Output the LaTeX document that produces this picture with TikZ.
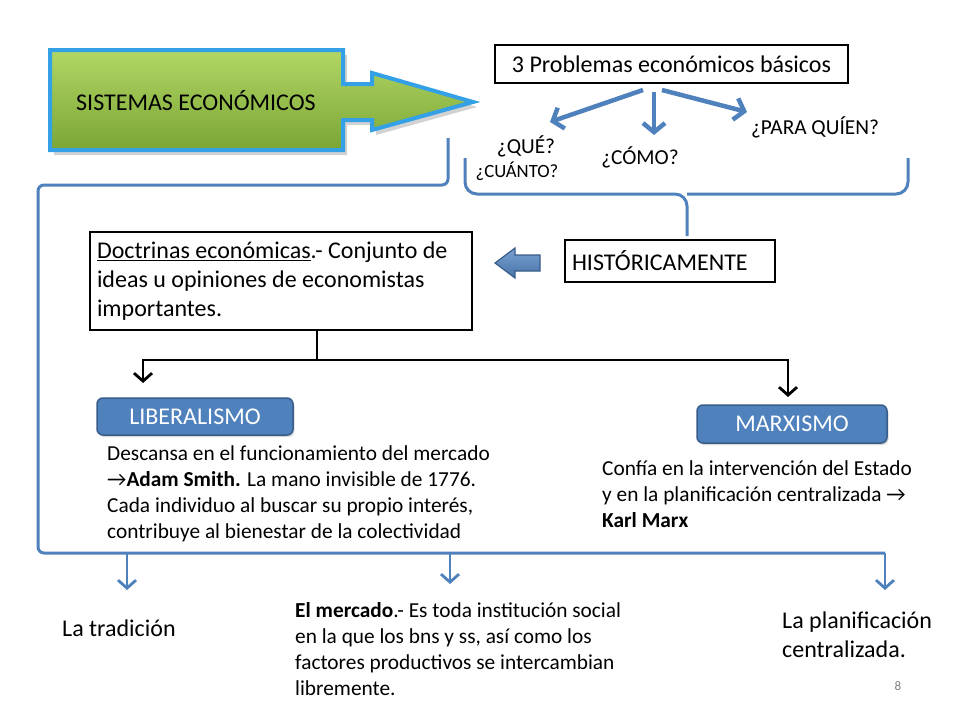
\documentclass[tikz,border=0pt]{standalone}
\usepackage{fontspec}
\setmainfont{Carlito}
\usetikzlibrary{arrows.meta,shadows,calc}
\definecolor{blu}{RGB}{79,129,189}
\definecolor{bludark}{RGB}{56,93,138}
\definecolor{skyb}{RGB}{52,160,230}
\definecolor{grtop}{RGB}{178,214,100}
\definecolor{grbot}{RGB}{122,166,54}
\tikzset{
  fA/.style={font=\fontsize{24}{28.8}\selectfont},
  fB/.style={font=\fontsize{21.33}{26.2}\selectfont},
  fC/.style={font=\fontsize{18.7}{22}\selectfont},
  blackbox/.style={draw=black, line width=2pt, fA, inner sep=7pt},
  bluebtn/.style={draw=bludark, fill=blu, line width=1.5pt, rounded corners=6pt, text=white, fA, drop shadow={shadow xshift=1.5pt, shadow yshift=-2pt, opacity=0.3}},
  txt/.style={inner sep=0pt, align=left},
  bigarrow/.style={draw=blu, line width=4.5pt, -{Straight Barb[length=9pt,width=22pt]}},
  blkarrow/.style={draw=black, line width=2.8pt, -{Straight Barb[length=8pt,width=18pt]}},
  blkline/.style={draw=black, line width=2.8pt},
  bluline/.style={draw=blu, line width=3pt},
  smallarrow/.style={draw=blu, line width=2.8pt, -{Straight Barb[length=8pt,width=18pt]}},
}
\begin{document}
\begin{tikzpicture}[x=1pt,y=-1pt]
\useasboundingbox (0,0) rectangle (960,720);
\fill[white] (0,0) rectangle (960,720);

% Green block arrow
\path[draw=skyb, line width=4pt, line join=miter, top color=grtop, bottom color=grbot,
      drop shadow={shadow xshift=4pt, shadow yshift=-5pt, opacity=0.35}]
  (50,50) -- (343,50) -- (343,84) -- (372,84) -- (372,73) -- (473,102) -- (372,130)
  -- (372,120) -- (343,120) -- (343,150) -- (50,150) -- cycle;
\node[fA, anchor=west, inner sep=0pt] (sis) at (76,101) {SISTEMAS ECONÓMICOS};

% Top box
\node[blackbox, minimum width=353pt, minimum height=38pt] (prob) at (671.5,64) {3 Problemas económicos básicos};

% question labels
\node[fB, inner sep=0pt] (que) at (526,146) {¿QUÉ?};
\node[fC, inner sep=0pt] (cuanto) at (517,171) {¿CUÁNTO?};
\node[fB, inner sep=0pt] (como) at (640,157) {¿CÓMO?};
\node[fB, inner sep=0pt] (para) at (815,127) {¿PARA QUÍEN?};

\coordinate (a1s) at (643,90);
\coordinate (a1e) at (550,122);
\coordinate (a2s) at (654,92);
\coordinate (a2e) at (654,135);
\coordinate (a3s) at (662,90);
\coordinate (a3e) at (747,112);
\draw[bigarrow] (a1s) -- (a1e);
\draw[bigarrow] (a2s) -- (a2e);
\draw[bigarrow] (a3s) -- (a3e);

% HISTORICAMENTE box
\node[blackbox, minimum width=210pt, minimum height=42pt, text width=196pt, align=flush left] (hist) at (670,261) {HISTÓRICAMENTE};

% brace
\coordinate (brL) at (465,158);
\coordinate (brR) at (908,158);
\coordinate (brM) at (687,194);
\draw[bluline, rounded corners=12pt] (brL) -- (brL |- brM) -- (brM) -- (brM |- 0,236);
\draw[bluline, rounded corners=12pt] (brR) -- (brR |- brM) -- (brM);

% left blue arrow
\path[draw=bludark, line width=1.2pt, top color=blu!75!white, bottom color=blu!90!black]
  (495,263) -- (515,248) -- (515,255) -- (540,255) -- (540,271) -- (515,271) -- (515,278) -- cycle;

% Doctrinas box
\node[blackbox, minimum width=382pt, minimum height=98pt, text width=368pt, align=flush left] (doc) at (281,281)
  {\underline{Doctrinas económicas}.- Conjunto de\\ideas u opiniones de economistas\\importantes.};

% Liberalismo / Marxismo
\node[bluebtn, minimum width=196pt, minimum height=37pt] (lib) at (195,416.5) {LIBERALISMO};
\node[bluebtn, minimum width=190pt, minimum height=38pt] (marx) at (792,424) {MARXISMO};

\coordinate (j1) at (317,360);
\coordinate (jl) at (143,360);
\coordinate (jr) at (788,360);
\draw[blkline] (doc.south -| j1) -- (j1);
\draw[blkline, line cap=rect] (jl) -- (jr);
\draw[blkarrow] (jl) -- (143,383);
\draw[blkarrow] (jr) -- (788,397);

\node[fB, txt, anchor=north west] (libt) at (107,445)
  {Descansa en el funcionamiento del mercado\\→\textbf{Adam Smith.} La mano invisible de 1776.\\Cada individuo al buscar su propio interés,\\contribuye al bienestar de la colectividad};
\node[fB, txt, anchor=north west] (marxt) at (602,460)
  {Confía en la intervención del Estado\\y en la planificación centralizada →\\\textbf{Karl Marx}};

% big left blue connector
\coordinate (lt) at (448,138);
\coordinate (lc) at (38,185);
\coordinate (lb) at (38,553);
\coordinate (rb) at (885,553);
\draw[bluline, rounded corners=6pt] (lt) -- (lt |- lc) -- (lc) -- (lb) -- (rb);
\draw[smallarrow] (127,553) -- (127,590);
\draw[smallarrow] (450,553) -- (450,584);
\draw[smallarrow] (rb) -- (885,590);

\node[fA, inner sep=0pt, anchor=base west] (trad) at (62,636) {La tradición};
\node[fB, txt, anchor=north west] (merc) at (295,602)
  {\textbf{El mercado}.- Es toda institución social\\en la que los bns y ss, así como los\\factores productivos se intercambian\\libremente.};
\node[fA, txt, anchor=north west] (plan) at (782,612) {La planificación\\centralizada.};
\node[font=\fontsize{13}{15}\selectfont, text=gray, inner sep=0pt] (pg) at (898,686) {8};
\end{tikzpicture}
\end{document}
